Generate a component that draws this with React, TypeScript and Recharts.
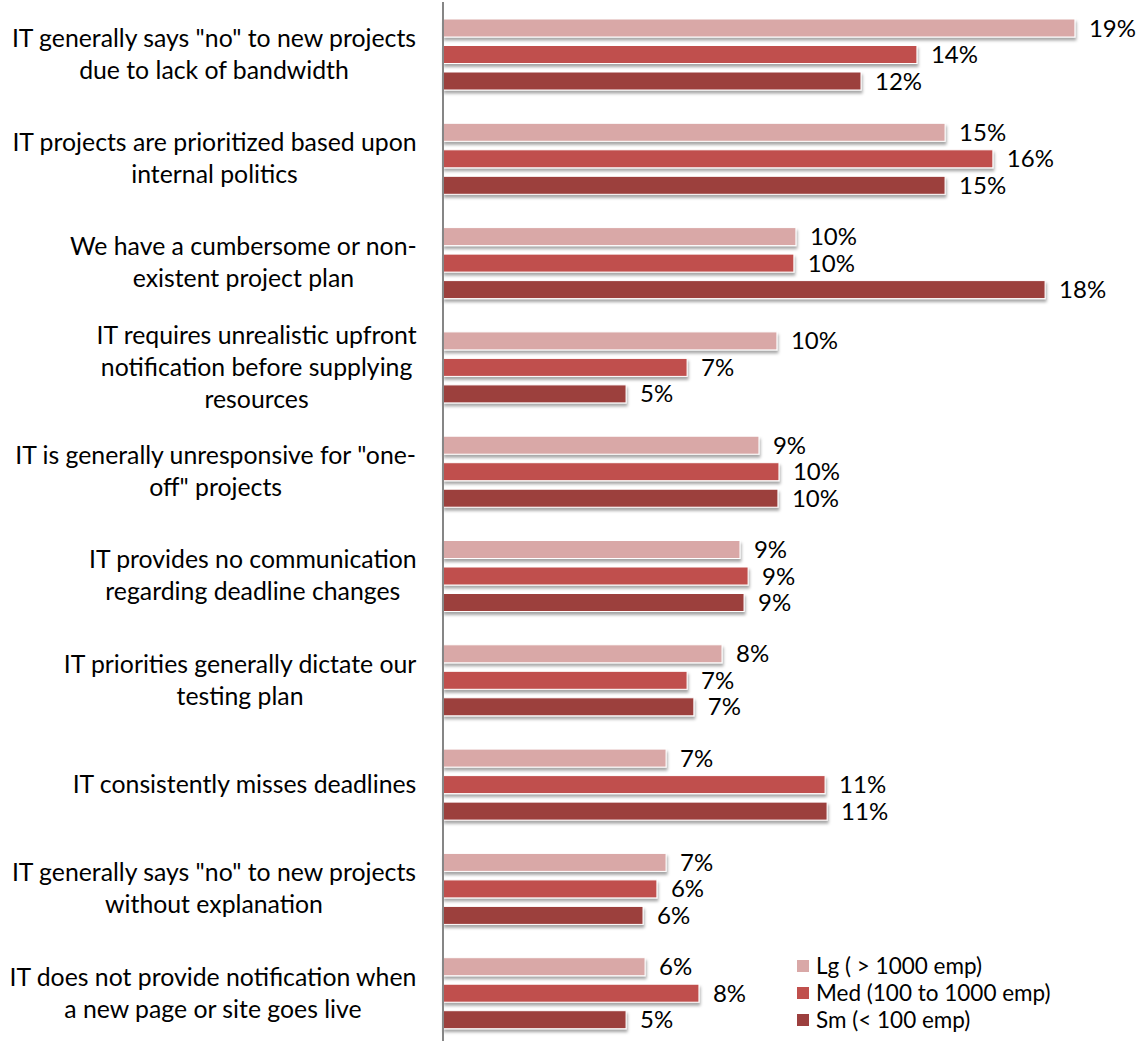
import React from "react";
import { BarChart, Bar, XAxis, YAxis, LabelList } from "recharts";

// Survey categories (line breaks follow the original wrapping)
const categories = [
  'IT generally says "no" to new projects\ndue to lack of bandwidth',
  "IT projects are prioritized based upon\ninternal politics",
  "We have a cumbersome or non-\nexistent project plan",
  "IT requires unrealistic upfront\nnotification before supplying\nresources",
  'IT is generally unresponsive for "one-\noff" projects',
  "IT provides no communication\nregarding deadline changes",
  "IT priorities generally dictate our\ntesting plan",
  "IT consistently misses deadlines",
  'IT generally says "no" to new projects\nwithout explanation',
  "IT does not provide notification when\na new page or site goes live",
];

// Percent values
const lgValues = [18.64, 14.81, 10.41, 9.85, 9.32, 8.76, 8.23, 6.58, 6.58, 5.96];
const medValues = [13.98, 16.22, 10.35, 7.2, 9.91, 9.0, 7.2, 11.27, 6.31, 7.55];
const smValues = [12.33, 14.81, 17.76, 5.4, 9.88, 8.88, 7.4, 11.33, 5.9, 5.4];

const seriesNames = ["Lg ( > 1000 emp)", "Med (100 to 1000 emp)", "Sm (< 100 emp)"];

const colors = {
  lg: "#d9a8a7",
  med: "#c0504d",
  sm: "#9c3f3e",
  axis: "#868686",
  text: "#000000",
};

const FONT = "Lato, 'Open Sans', sans-serif";
const CAT_SIZE = 24.8;
const VAL_SIZE = 24;
const LEG_SIZE = 22.5;
const LINE_H = 32;
const LABEL_RIGHT = 417;

const data = categories.map((name, i) => ({
  name,
  lg: lgValues[i],
  med: medValues[i],
  sm: smValues[i],
}));

let ctx: CanvasRenderingContext2D | null = null;
function textWidth(t: string) {
  if (!ctx) ctx = document.createElement("canvas").getContext("2d");
  if (!ctx) return t.length * CAT_SIZE * 0.5;
  ctx.font = `${CAT_SIZE}px ${FONT}`;
  return ctx.measureText(t).width;
}

// wrapped category label, centred per line, block right-aligned to the axis
function CategoryTick({ y, payload }: any) {
  const lines: string[] = String(payload.value).split("\n");
  const maxW = Math.max(...lines.map(textWidth));
  const cx = LABEL_RIGHT - maxW / 2;
  const top = y - ((lines.length - 1) * LINE_H) / 2;
  return (
    <text textAnchor="middle" fontFamily={FONT} fontSize={CAT_SIZE} fill={colors.text}>
      {lines.map((l, i) => (
        <tspan key={i} x={cx} y={top + i * LINE_H} dy="0.35em">
          {l}
        </tspan>
      ))}
    </text>
  );
}

function ShadowBar(props: any) {
  const { x, y, width, height, fill } = props;
  if (!width || width <= 0) return null;
  return (
    <rect
      x={x}
      y={y}
      width={width}
      height={height}
      fill={fill}
      stroke="#ffffff"
      strokeWidth={1}
      filter="url(#barShadow)"
    />
  );
}

function LegendBox() {
  const items = [
    { name: seriesNames[0], color: colors.lg },
    { name: seriesNames[1], color: colors.med },
    { name: seriesNames[2], color: colors.sm },
  ];
  return (
    <div
      style={{
        position: "absolute",
        left: 797,
        top: 952,
        fontFamily: FONT,
        fontSize: LEG_SIZE,
        lineHeight: "27px",
        color: colors.text,
      }}
    >
      {items.map((it) => (
        <div key={it.name} style={{ display: "flex", alignItems: "center", height: 27 }}>
          <span
            style={{
              display: "inline-block",
              width: 12,
              height: 12,
              background: it.color,
              marginRight: 7,
            }}
          />
          <span style={{ whiteSpace: "nowrap" }}>{it.name}</span>
        </div>
      ))}
    </div>
  );
}

const pct = (v: any) => `${Math.round(Number(v))}%`;

export default function App() {
  return (
    <div
      style={{
        position: "absolute",
        left: 0,
        top: 0,
        width: 1141,
        height: 1041,
        overflow: "hidden",
        background: "#ffffff",
      }}
    >
      <BarChart
        width={1141}
        height={1045}
        data={data}
        layout="vertical"
        margin={{ top: 2, right: 20, bottom: 0, left: 0 }}
        barSize={18}
        barGap={8.5}
      >
        <defs>
          <filter id="barShadow" x="-5%" y="-40%" width="115%" height="200%">
            <feDropShadow dx="1" dy="3" stdDeviation="1.5" floodColor="#000000" floodOpacity="0.35" />
          </filter>
        </defs>
        <XAxis type="number" domain={[0, 20]} hide />
        <YAxis
          type="category"
          dataKey="name"
          width={443}
          axisLine={{ stroke: colors.axis, strokeWidth: 2 }}
          tickLine={false}
          tick={<CategoryTick />}
          interval={0}
        />
        <Bar dataKey="lg" name={seriesNames[0]} fill={colors.lg} shape={<ShadowBar />} isAnimationActive={false}>
          <LabelList dataKey="lg" position="right" offset={14} formatter={pct} fill={colors.text} fontSize={VAL_SIZE} fontFamily={FONT} />
        </Bar>
        <Bar dataKey="med" name={seriesNames[1]} fill={colors.med} shape={<ShadowBar />} isAnimationActive={false}>
          <LabelList dataKey="med" position="right" offset={14} formatter={pct} fill={colors.text} fontSize={VAL_SIZE} fontFamily={FONT} />
        </Bar>
        <Bar dataKey="sm" name={seriesNames[2]} fill={colors.sm} shape={<ShadowBar />} isAnimationActive={false}>
          <LabelList dataKey="sm" position="right" offset={14} formatter={pct} fill={colors.text} fontSize={VAL_SIZE} fontFamily={FONT} />
        </Bar>
      </BarChart>
      <LegendBox />
    </div>
  );
}
